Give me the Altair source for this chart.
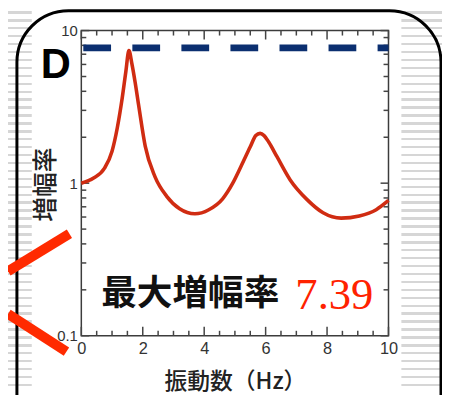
import altair as alt
import pandas as pd

# ---- data ----
freq = [0.0, 0.4, 0.75, 1.0, 1.17, 1.33, 1.45, 1.55, 1.65, 1.75, 1.87, 2.08, 2.4, 2.78,
        3.2, 3.7, 4.15, 4.6, 4.93, 5.2, 5.5, 5.68, 5.82, 5.95, 6.1, 6.37, 6.8, 7.35,
        7.87, 8.46, 9.05, 9.6, 10.0]
amp = [1.0, 1.08, 1.25, 1.62, 2.3, 3.6, 5.4, 7.39, 6.0, 4.6, 3.2, 1.75, 1.10, 0.82,
       0.68, 0.63, 0.67, 0.79, 1.0, 1.29, 1.73, 2.05, 2.12, 2.05, 1.86, 1.49, 1.05, 0.78,
       0.64, 0.59, 0.61, 0.67, 0.77]
max_line = [7.7]
max_label = ["最大増幅率"]
max_value = ["7.39"]
panel_label = ["D"]

x_major = [0, 2, 4, 6, 8, 10]
x_minor = [0.5, 1, 1.5, 2.5, 3, 3.5, 4.5, 5, 5.5, 6.5, 7, 7.5, 8.5, 9, 9.5]
y_major = [0.1, 1, 10]
y_minor = [0.2, 0.3, 0.4, 0.5, 0.6, 0.7, 0.8, 0.9, 2, 3, 4, 5, 6, 7, 8, 9]

x_title = "振動数（Hz）"
y_title = "増幅率"

W, H = 310, 308

xs = alt.Scale(domain=[0, 10], nice=False, zero=False)
ys = alt.Scale(type="log", domain=[0.1, 10], nice=False)

x_axis = alt.Axis(
    values=x_major, ticks=False, tickSize=0, domain=False, grid=False,
    labelFont="Liberation Sans", labelFontSize=16.5, labelColor="#333", labelPadding=5,
    labelFlush=False, title=x_title, titleFont="Noto Sans CJK JP", titleFontSize=23,
    titleFontWeight=500, titleColor="#222", titleY=46, titleBaseline="middle")
y_axis = alt.Axis(
    values=y_major, format="~g", ticks=False, tickSize=0, domain=False, grid=False,
    labelFont="Liberation Sans", labelFontSize=15, labelColor="#333", labelPadding=4,
    labelFlush=False, title=y_title, titleFont="Noto Sans CJK JP", titleFontSize=25,
    titleFontWeight=500, titleColor="#222", titleX=-36, titleY=H / 2 + 1,
    titleAngle=270, titleBaseline="middle", titleAlign="center")

def X(field):
    return alt.X(field, scale=xs, axis=x_axis)

def Y(field):
    return alt.Y(field, scale=ys, axis=y_axis)

df = pd.DataFrame({"f": freq, "a": amp})

curve = alt.Chart(df).mark_line(color="#d02c12", strokeWidth=3.6, interpolate="monotone").encode(
    x=X("f:Q"), y=Y("a:Q"))

dash = alt.Chart(pd.DataFrame({"v": max_line})).mark_rule(
    color="#0b2f70", strokeWidth=7, strokeDash=[28, 21.5], strokeDashOffset=-2
).encode(y=Y("v:Q"), x=alt.value(0), x2=alt.value(W))

tick_style = dict(color="#444", strokeWidth=1.5)

def yticks(vals, length):
    d = pd.DataFrame({"v": vals})
    left = alt.Chart(d).mark_rule(**tick_style).encode(
        y=Y("v:Q"), x=alt.value(0), x2=alt.value(length))
    right = alt.Chart(d).mark_rule(**tick_style).encode(
        y=Y("v:Q"), x=alt.value(W - length), x2=alt.value(W))
    return [left, right]

def xticks(vals, length):
    d = pd.DataFrame({"v": vals})
    bottom = alt.Chart(d).mark_rule(**tick_style).encode(
        x=X("v:Q"), y=alt.value(H - length), y2=alt.value(H))
    top = alt.Chart(d).mark_rule(**tick_style).encode(
        x=X("v:Q"), y=alt.value(0), y2=alt.value(length))
    return [bottom, top]

ticks = yticks(y_minor, 5) + yticks(y_major, 8) + xticks(x_minor, 5) + xticks(x_major, 9)

# ---- decorations (slide background) ----
one = pd.DataFrame({"k": [0]})
stops = []
Hs = 387.0
for k in range(0, 50):
    yc = 2.7 + 8 * k
    t0, t1 = yc - 1.2 - 8, yc + 1.2 - 8
    if t0 < 0 or t1 > Hs:
        continue
    stops += [
        {"offset": t0 / Hs, "color": "#ffffff"},
        {"offset": t0 / Hs, "color": "#d6d6d6"},
        {"offset": t1 / Hs, "color": "#d6d6d6"},
        {"offset": t1 / Hs, "color": "#ffffff"},
    ]
stripe_fill = {"gradient": "linear", "x1": 0, "y1": 0, "x2": 0, "y2": 1, "stops": stops}

stripes_l = alt.Chart(one).mark_rect(fill=stripe_fill).encode(
    x=alt.value(-74), x2=alt.value(-50), y=alt.value(-21), y2=alt.value(366))
stripes_r = alt.Chart(one).mark_rect(fill=stripe_fill).encode(
    x=alt.value(323), x2=alt.value(364), y=alt.value(-21), y2=alt.value(366))
border = alt.Chart(one).mark_rect(fillOpacity=0, stroke="black", strokeWidth=3, cornerRadius=52).encode(
    x=alt.value(-65), x2=alt.value(363), y=alt.value(-20), y2=alt.value(420))
red1 = alt.Chart(one).mark_rule(color="#ff2a00", strokeWidth=10).encode(
    x=alt.value(-74), y=alt.value(243), x2=alt.value(-12), y2=alt.value(205))
red2 = alt.Chart(one).mark_rule(color="#ff2a00", strokeWidth=10).encode(
    x=alt.value(-74), y=alt.value(286), x2=alt.value(-15), y2=alt.value(324))

t_label = alt.Chart(pd.DataFrame({"t": max_label})).mark_text(
    font="Noto Sans CJK JP", fontSize=36, fontWeight="bold", color="#111",
    align="left", baseline="middle").encode(
    x=alt.value(20), y=alt.value(266), text="t:N")
t_value = alt.Chart(pd.DataFrame({"t": max_value})).mark_text(
    font="Liberation Serif", fontSize=45, color="#ff2200",
    align="left", baseline="alphabetic").encode(
    x=alt.value(216), y=alt.value(281), text="t:N")
t_panel = alt.Chart(pd.DataFrame({"t": panel_label})).mark_text(
    font="Liberation Sans", fontSize=42, fontWeight="bold", color="#000",
    align="left", baseline="alphabetic").encode(
    x=alt.value(-41), y=alt.value(48), text="t:N")

chart = alt.layer(
    stripes_l, stripes_r, border, *ticks, curve, dash, t_label, t_value, t_panel, red1, red2
).properties(
    width=W, height=H,
    padding={"left": 74, "top": 21, "right": 54, "bottom": 58},
    autosize=alt.AutoSizeParams(type="none"),
).configure_view(stroke="#3c3c3c", strokeWidth=1.5)

chart.save("out.html", embed_options={"renderer": "svg", "actions": False})
